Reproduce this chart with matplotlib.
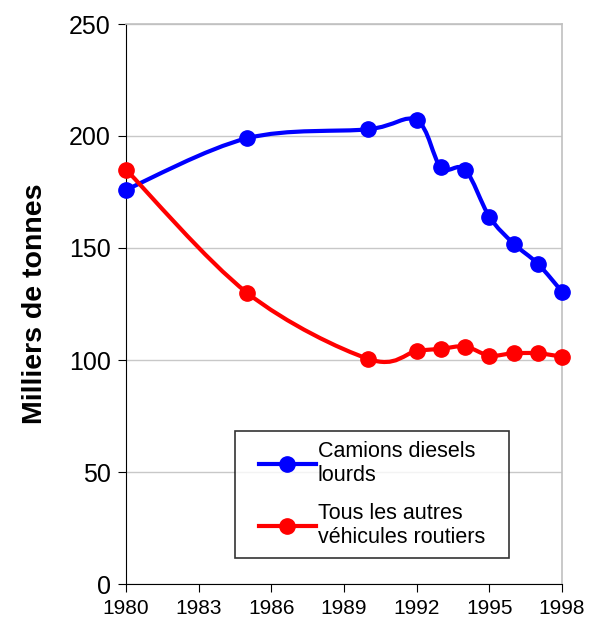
import matplotlib.pyplot as plt
from matplotlib.path import Path
from matplotlib.patches import PathPatch
from matplotlib.lines import Line2D
from matplotlib.legend_handler import HandlerLine2D

plt.rcParams['font.family'] = ['Liberation Sans', 'DejaVu Sans']

years = [1980, 1985, 1990, 1992, 1993, 1994, 1995, 1996, 1997, 1998]
camions = [176, 199, 203, 207, 186, 185, 164, 152, 143, 130.5]
autres = [185, 130, 100.5, 104, 105, 106, 102, 103, 103, 101.5]

x_ticks = [1980, 1983, 1986, 1989, 1992, 1995, 1998]
y_ticks = [0, 50, 100, 150, 200, 250]


def smooth_path(xs, ys):
    # Excel-style smoothed line: cubic Bezier through every point
    pts = list(zip(xs, ys))
    n = len(pts)
    verts = [pts[0]]
    codes = [Path.MOVETO]
    for i in range(n - 1):
        p0 = pts[i - 1] if i > 0 else pts[i]
        p1 = pts[i]
        p2 = pts[i + 1]
        p3 = pts[i + 2] if i + 2 < n else pts[i + 1]
        c1 = (p1[0] + (p2[0] - p0[0]) / 6, p1[1] + (p2[1] - p0[1]) / 6)
        c2 = (p2[0] - (p3[0] - p1[0]) / 6, p2[1] - (p3[1] - p1[1]) / 6)
        verts += [c1, c2, p2]
        codes += [Path.CURVE4] * 3
    return Path(verts, codes)


class ShiftedHandler(HandlerLine2D):
    # leave some blank space to the left of the legend sample
    def create_artists(self, legend, orig_handle, xdescent, ydescent,
                       width, height, fontsize, trans):
        arts = super().create_artists(legend, orig_handle, xdescent, ydescent,
                                      width, height, fontsize, trans)
        line = arts[0]
        xd = list(line.get_xdata())
        x0, x1 = xd[0], xd[-1]
        x0 = x0 + 0.2 * (x1 - x0)
        line.set_xdata([x0, (x0 + x1) / 2, x1])
        line.set_markevery([1])
        return arts


fig = plt.figure(figsize=(6.02, 6.24), dpi=100)
ax = fig.add_axes([126 / 602, 1 - 584 / 624, 436 / 602, 560 / 624])

for ys, col in [(camions, '#0000ff'), (autres, '#ff0000')]:
    ax.add_patch(PathPatch(smooth_path(years, ys), fill=False,
                           edgecolor=col, lw=3, zorder=3, clip_on=False))
    ax.plot(years, ys, ls='none', marker='o', ms=11, color=col,
            zorder=4, clip_on=False)

ax.set_xlim(1980, 1998)
ax.set_ylim(0, 250)
ax.set_xticks(x_ticks)
ax.set_yticks(y_ticks)
ax.tick_params(axis='x', labelsize=15, length=6, direction='out', pad=5)
ax.tick_params(axis='y', labelsize=18, length=6, direction='out', pad=5)
ax.yaxis.grid(True, color='#c8c8c8', lw=1)
ax.set_axisbelow(True)
for s in ['top', 'right']:
    ax.spines[s].set_color('#c0c0c0')
    ax.spines[s].set_linewidth(1.2)
for s in ['left', 'bottom']:
    ax.spines[s].set_color('black')
ax.set_ylabel('Milliers de tonnes', fontsize=20.5, fontweight='bold', labelpad=15)

handles = [
    Line2D([], [], color='#0000ff', lw=3, marker='o', ms=11),
    Line2D([], [], color='#ff0000', lw=3, marker='o', ms=11),
]
labels = ['Camions diesels\nlourds', 'Tous les autres\nvéhicules routiers']
leg_x = (235 - 126) / 436
leg_top = (584 - 431) / 560
leg_w = (509 - 235) / 436
leg = ax.legend(handles, labels, loc='upper left', mode='expand',
                bbox_to_anchor=(leg_x, leg_top - 0.3, leg_w, 0.3),
                fontsize=15.5, frameon=True, fancybox=False, edgecolor='black',
                handlelength=3.3, handletextpad=0.1, borderpad=0.45,
                labelspacing=0.78, borderaxespad=0,
                handler_map={Line2D: ShiftedHandler()})
leg.get_frame().set_linewidth(1.2)

fig.savefig('out.png', dpi=100)
